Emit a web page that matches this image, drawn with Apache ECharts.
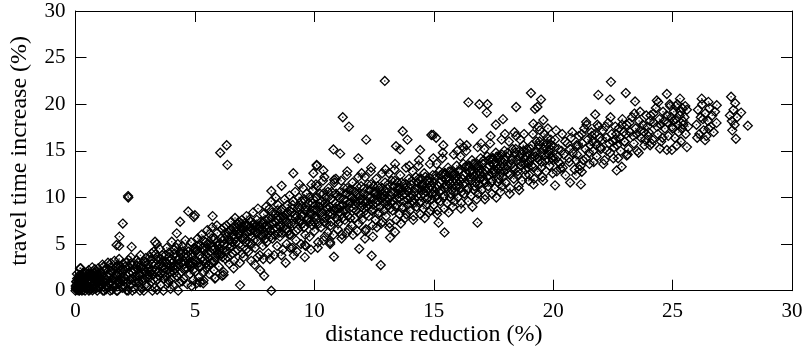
<!DOCTYPE html>
<html><head><meta charset="utf-8">
<script src="https://cdn.jsdelivr.net/npm/echarts@6/dist/echarts.min.js"></script>
<style>html,body{margin:0;padding:0;background:#fff}#c{width:809px;height:350px}</style>
</head><body><div id="c"></div>
<script>
// axis tick values
const xTicks = [0, 5, 10, 15, 20, 25, 30];
const yTicks = [0, 5, 10, 15, 20, 25, 30];
const xName = 'distance reduction (%)';
const yName = 'travel time increase (%)';

// points as flat [x, y, x, y, ...] lists (distance reduction %, travel time increase %)
const pts0to1 = [0.0,0.0, 0.02,0.3, 0.05,0.6, 0.03,1.0, 0.08,0.2, 0.1,0.8, 0.12,1.4, 0.06,1.8, 0.15,0.5, 0.18,0.1, 0.2,1.1, 0.22,2.4, 0.25,0.7, 0.28,1.6, 0.3,0.3, 0.33,0.9, 0.35,2.0, 0.38,1.3, 0.4,0.0, 0.42,0.6, 0.45,1.9, 0.47,1.0, 0.5,0.4, 0.52,1.5, 0.55,2.2, 0.57,0.8, 0.6,0.1, 0.62,1.2, 0.65,1.8, 0.68,0.5, 0.7,2.5, 0.72,1.0, 0.75,0.2, 0.78,1.6, 0.8,0.7, 0.83,2.1, 0.85,1.3, 0.88,0.3, 0.9,1.8, 0.93,0.9, 0.95,2.4, 0.98,0.5, 0.01,0.5, 0.04,0.15, 0.07,1.3, 0.11,0.05, 0.14,0.9, 0.17,1.7, 0.21,0.35, 0.24,1.2, 0.27,0.0, 0.31,1.9, 0.36,0.55, 0.41,1.45, 0.46,0.2, 0.51,0.95, 0.56,0.0, 0.61,1.55, 0.66,0.85, 0.71,0.05, 0.76,1.25, 0.81,2.3, 0.86,0.6, 0.91,0.0, 0.96,1.4];
const pts1to2 = [1.0,0.3, 1.03,1.1, 1.06,2.0, 1.1,0.6, 1.13,2.8, 1.16,1.5, 1.2,0.0, 1.23,0.9, 1.26,2.3, 1.3,1.2, 1.33,0.4, 1.36,3.0, 1.4,1.8, 1.43,0.7, 1.46,2.5, 1.5,1.0, 1.53,0.1, 1.56,2.0, 1.6,1.4, 1.63,3.2, 1.66,0.5, 1.7,2.6, 1.73,1.1, 1.76,0.0, 1.8,1.9, 1.83,3.4, 1.86,0.8, 1.9,2.3, 1.93,1.4, 1.96,0.3, 1.99,2.9, 1.08,1.6, 1.18,2.6, 1.28,0.15, 1.38,1.45, 1.48,2.95, 1.58,0.75, 1.68,1.75, 1.78,2.75, 1.88,1.2, 1.98,0.6, 1.15,0.0, 1.45,0.0, 1.72,0.0];
const pts2to3 = [2.0,1.0, 2.04,2.2, 2.08,0.4, 2.12,3.0, 2.16,1.6, 2.2,0.0, 2.24,2.6, 2.28,1.2, 2.32,3.6, 2.36,0.7, 2.4,1.9, 2.44,2.9, 2.48,0.2, 2.52,1.5, 2.56,3.3, 2.6,2.3, 2.64,0.9, 2.68,1.8, 2.72,3.8, 2.76,0.3, 2.8,2.6, 2.84,1.3, 2.88,3.1, 2.92,0.6, 2.96,2.0, 2.1,1.3, 2.22,3.3, 2.34,2.1, 2.46,1.0, 2.58,2.7, 2.7,0.0, 2.82,1.9, 2.94,3.5, 2.14,0.05, 2.38,0.0, 2.62,1.1, 2.86,0.0, 2.98,1.4];
const pts3to4 = [3.0,0.5, 3.04,2.4, 3.08,1.4, 3.12,3.6, 3.16,0.9, 3.2,2.9, 3.24,1.8, 3.28,4.2, 3.32,0.3, 3.36,2.2, 3.4,3.3, 3.44,1.2, 3.48,2.7, 3.52,4.5, 3.56,0.6, 3.6,1.9, 3.64,3.0, 3.68,0.0, 3.72,2.4, 3.76,3.8, 3.8,1.5, 3.84,2.8, 3.88,0.8, 3.92,4.1, 3.96,2.0, 3.1,2.0, 3.22,0.0, 3.34,3.9, 3.46,2.0, 3.58,3.4, 3.7,1.3, 3.82,4.6, 3.94,3.2, 3.18,4.0, 3.42,0.1, 3.66,2.6, 3.9,1.1, 3.98,0.2];
const pts4to5 = [4.0,1.2, 4.04,3.0, 4.08,0.6, 4.12,4.4, 4.16,2.3, 4.2,3.6, 4.24,1.6, 4.28,5.0, 4.32,2.8, 4.36,0.9, 4.4,3.9, 4.44,2.0, 4.48,4.8, 4.52,1.3, 4.56,3.2, 4.6,5.4, 4.64,2.5, 4.68,0.7, 4.72,4.2, 4.76,3.0, 4.8,1.8, 4.84,5.2, 4.88,3.6, 4.92,2.2, 4.96,4.6, 4.1,2.6, 4.22,4.6, 4.34,3.4, 4.46,1.0, 4.58,2.9, 4.7,3.7, 4.82,2.6, 4.94,1.2, 4.14,1.9, 4.38,4.2, 4.62,4.0, 4.86,0.5, 4.98,3.3, 4.3,0.0];
const pts5to6 = [5.0,2.0, 5.04,4.2, 5.08,3.1, 5.12,5.6, 5.16,1.4, 5.2,3.8, 5.24,2.6, 5.28,6.0, 5.32,4.6, 5.36,1.1, 5.4,3.4, 5.44,5.2, 5.48,2.4, 5.52,6.5, 5.56,4.0, 5.6,1.8, 5.64,5.0, 5.68,3.0, 5.72,6.8, 5.76,4.4, 5.8,2.2, 5.84,5.6, 5.88,3.6, 5.92,7.0, 5.96,4.8, 5.1,4.8, 5.22,0.9, 5.34,5.4, 5.46,3.8, 5.58,2.8, 5.7,4.7, 5.82,3.2, 5.94,6.2, 5.15,3.0, 5.38,2.0, 5.62,6.1, 5.86,1.4, 5.98,3.9, 5.5,4.6];
const pts6to7 = [6.0,2.6, 6.04,5.0, 6.08,3.8, 6.12,6.6, 6.16,4.4, 6.2,2.0, 6.24,5.6, 6.28,3.4, 6.32,7.0, 6.36,4.8, 6.4,6.2, 6.44,2.9, 6.48,5.4, 6.52,7.4, 6.56,4.0, 6.6,6.0, 6.64,3.2, 6.68,7.8, 6.72,5.2, 6.76,6.8, 6.8,4.4, 6.84,7.4, 6.88,3.0, 6.92,6.4, 6.96,5.6, 6.1,4.0, 6.22,6.8, 6.34,5.8, 6.46,4.6, 6.58,5.2, 6.7,4.2, 6.82,6.0, 6.94,7.2, 6.14,1.6, 6.38,3.6, 6.62,2.4, 6.86,5.0, 6.98,4.0, 6.5,6.6];
const pts7to8 = [7.0,6.6, 7.04,3.6, 7.08,7.2, 7.12,5.2, 7.16,8.0, 7.2,6.2, 7.24,4.2, 7.28,7.6, 7.32,6.8, 7.36,3.2, 7.4,5.8, 7.44,8.4, 7.48,6.4, 7.52,4.6, 7.56,7.0, 7.6,5.4, 7.64,8.8, 7.68,6.6, 7.72,3.8, 7.76,7.4, 7.8,6.0, 7.84,4.8, 7.88,8.2, 7.92,6.8, 7.96,5.6, 7.1,6.0, 7.22,7.0, 7.34,6.4, 7.46,7.2, 7.58,6.2, 7.7,7.0, 7.82,6.6, 7.94,7.6, 7.14,4.4, 7.38,5.0, 7.62,3.6, 7.86,3.4, 7.98,9.0, 7.5,2.8];
const pts8to9 = [8.0,5.2, 8.04,7.6, 8.08,4.0, 8.12,8.8, 8.16,6.4, 8.2,9.6, 8.24,5.6, 8.28,7.2, 8.32,3.8, 8.36,8.2, 8.4,6.8, 8.44,4.8, 8.48,9.2, 8.52,7.0, 8.56,5.8, 8.6,8.6, 8.64,6.2, 8.68,4.4, 8.72,7.8, 8.76,9.8, 8.8,6.6, 8.84,5.0, 8.88,8.4, 8.92,7.2, 8.96,10.2, 8.1,6.8, 8.22,7.8, 8.34,6.0, 8.46,7.6, 8.58,6.8, 8.7,8.0, 8.82,7.4, 8.94,6.0, 8.14,3.4, 8.38,10.0, 8.62,3.8, 8.86,9.2, 8.98,4.6, 8.5,8.0];
const pts9to10 = [9.0,6.0, 9.04,8.4, 9.08,4.6, 9.12,9.6, 9.16,7.2, 9.2,10.6, 9.24,5.4, 9.28,8.0, 9.32,6.6, 9.36,10.0, 9.4,7.6, 9.44,5.0, 9.48,9.0, 9.52,11.0, 9.56,6.8, 9.6,8.6, 9.64,4.8, 9.68,10.4, 9.72,7.8, 9.76,9.4, 9.8,5.8, 9.84,8.2, 9.88,11.4, 9.92,7.0, 9.96,9.8, 9.1,8.8, 9.22,7.8, 9.34,9.0, 9.46,8.0, 9.58,9.8, 9.7,8.6, 9.82,7.4, 9.94,10.8, 9.14,3.8, 9.38,11.4, 9.62,6.0, 9.86,4.4, 9.98,8.6, 9.5,7.2];
const pts10to11 = [10.0,6.4, 10.04,9.2, 10.08,7.6, 10.12,11.2, 10.16,5.2, 10.2,8.4, 10.24,10.4, 10.28,6.8, 10.32,9.6, 10.36,11.8, 10.4,7.4, 10.44,5.8, 10.48,10.0, 10.52,8.8, 10.56,6.2, 10.6,11.0, 10.64,9.0, 10.68,7.0, 10.72,10.6, 10.76,8.2, 10.8,6.0, 10.84,11.6, 10.88,9.4, 10.92,7.8, 10.96,10.2, 10.1,8.6, 10.22,9.0, 10.34,8.0, 10.46,9.4, 10.58,8.2, 10.7,9.8, 10.82,8.6, 10.94,8.8, 10.14,4.6, 10.42,12.2, 10.66,5.2, 10.9,12.0, 10.98,6.6, 10.5,7.2];
const pts11to12 = [11.0,7.2, 11.04,10.0, 11.08,8.4, 11.12,11.8, 11.16,6.0, 11.2,9.2, 11.24,11.0, 11.28,7.6, 11.32,10.4, 11.36,12.4, 11.4,8.0, 11.44,6.6, 11.48,10.8, 11.52,9.4, 11.56,7.0, 11.6,11.6, 11.64,9.8, 11.68,7.8, 11.72,10.6, 11.76,8.6, 11.8,6.4, 11.84,12.2, 11.88,9.6, 11.92,8.2, 11.96,11.2, 11.1,9.0, 11.22,8.6, 11.34,9.6, 11.46,8.8, 11.58,10.0, 11.7,9.2, 11.82,10.2, 11.94,9.8, 11.14,5.6, 11.38,12.8, 11.62,6.0, 11.86,7.2, 11.98,12.6, 11.5,10.2];
const pts12to13 = [12.0,7.6, 12.04,10.4, 12.08,8.8, 12.12,12.2, 12.16,6.6, 12.2,9.6, 12.24,11.4, 12.28,8.0, 12.32,10.8, 12.36,12.8, 12.4,8.6, 12.44,7.0, 12.48,11.2, 12.52,9.8, 12.56,7.6, 12.6,12.0, 12.64,10.2, 12.68,8.2, 12.72,11.0, 12.76,9.0, 12.8,7.2, 12.84,12.6, 12.88,10.0, 12.92,8.6, 12.96,11.6, 12.1,9.4, 12.22,9.0, 12.34,10.0, 12.46,9.2, 12.58,10.6, 12.7,9.6, 12.82,10.4, 12.94,10.2, 12.14,6.4, 12.38,13.2, 12.62,6.8, 12.86,7.4, 12.98,13.0, 12.5,10.4];
const pts13to14 = [13.0,8.0, 13.04,11.0, 13.08,9.2, 13.12,12.6, 13.16,7.2, 13.2,10.2, 13.24,11.8, 13.28,8.6, 13.32,11.2, 13.36,13.0, 13.4,9.0, 13.44,7.6, 13.48,11.6, 13.52,10.4, 13.56,8.2, 13.6,12.4, 13.64,10.6, 13.68,8.8, 13.72,11.4, 13.76,9.6, 13.8,7.8, 13.84,13.2, 13.88,10.8, 13.92,9.2, 13.96,12.0, 13.1,9.8, 13.22,9.4, 13.34,10.6, 13.46,9.8, 13.58,11.0, 13.7,10.2, 13.82,11.0, 13.94,10.6, 13.14,6.8, 13.38,13.6, 13.62,7.2, 13.86,8.2, 13.98,13.4, 13.5,10.8];
const pts14to15 = [14.0,8.6, 14.04,11.4, 14.08,9.6, 14.12,12.8, 14.16,8.0, 14.2,10.6, 14.24,12.2, 14.28,9.0, 14.32,11.6, 14.36,13.4, 14.4,9.4, 14.44,8.2, 14.48,12.0, 14.52,10.8, 14.56,8.8, 14.6,12.6, 14.64,11.0, 14.68,9.2, 14.72,11.8, 14.76,10.0, 14.8,8.4, 14.84,13.6, 14.88,11.2, 14.92,9.8, 14.96,12.4, 14.1,10.2, 14.22,9.8, 14.34,11.0, 14.46,10.2, 14.58,11.4, 14.7,10.6, 14.82,11.6, 14.94,11.0, 14.14,7.6, 14.38,14.0, 14.62,7.8, 14.86,8.6, 14.98,14.2, 14.5,11.2];
const pts15to16 = [15.0,9.2, 15.04,12.0, 15.08,10.2, 15.12,13.6, 15.16,8.6, 15.2,11.2, 15.24,12.8, 15.28,9.6, 15.32,12.4, 15.36,14.2, 15.4,10.0, 15.44,8.8, 15.48,12.6, 15.52,11.4, 15.56,9.4, 15.6,13.2, 15.64,11.8, 15.68,10.0, 15.72,12.8, 15.76,10.8, 15.8,9.0, 15.84,14.6, 15.88,12.0, 15.92,10.6, 15.96,13.4, 15.1,11.0, 15.22,10.6, 15.34,11.8, 15.46,11.0, 15.58,12.2, 15.7,11.4, 15.82,12.4, 15.94,11.8, 15.14,8.2, 15.38,14.8, 15.62,8.4, 15.86,9.6, 15.98,15.0, 15.5,12.0];
const pts16to17 = [16.0,10.0, 16.04,12.8, 16.08,11.0, 16.12,14.4, 16.16,9.4, 16.2,12.0, 16.24,13.6, 16.28,10.4, 16.32,13.2, 16.36,15.0, 16.4,10.8, 16.44,9.6, 16.48,13.4, 16.52,12.2, 16.56,10.2, 16.6,14.0, 16.64,12.6, 16.68,10.8, 16.72,13.6, 16.76,11.6, 16.8,9.8, 16.84,15.4, 16.88,12.8, 16.92,11.4, 16.96,14.2, 16.1,11.8, 16.22,11.4, 16.34,12.6, 16.46,11.8, 16.58,13.0, 16.7,12.2, 16.82,13.2, 16.94,12.6, 16.14,8.8, 16.38,15.6, 16.62,9.0, 16.86,10.4, 16.98,15.8, 16.5,12.8];
const pts17to18 = [17.0,10.8, 17.04,13.6, 17.08,11.8, 17.12,15.2, 17.16,10.2, 17.2,12.8, 17.24,14.4, 17.28,11.2, 17.32,14.0, 17.36,15.8, 17.4,11.6, 17.44,10.4, 17.48,14.2, 17.52,13.0, 17.56,11.0, 17.6,14.8, 17.64,13.4, 17.68,11.6, 17.72,14.4, 17.76,12.4, 17.8,10.6, 17.84,16.2, 17.88,13.6, 17.92,12.2, 17.96,15.0, 17.1,12.6, 17.22,12.2, 17.34,13.4, 17.46,12.6, 17.58,13.8, 17.7,13.0, 17.82,14.0, 17.94,13.4, 17.14,9.8, 17.38,16.6, 17.62,10.0, 17.86,11.2, 17.98,16.8, 17.5,13.6, 17.6,17.8, 17.9,18.4];
const pts18to19 = [18.0,11.6, 18.05,14.4, 18.1,12.6, 18.15,16.0, 18.2,11.0, 18.25,13.6, 18.3,15.2, 18.35,12.0, 18.4,14.8, 18.45,16.6, 18.5,12.4, 18.55,11.2, 18.6,15.0, 18.65,13.8, 18.7,11.8, 18.75,15.6, 18.8,14.2, 18.85,12.4, 18.9,15.2, 18.95,13.2, 18.08,13.4, 18.28,14.2, 18.48,14.0, 18.68,14.6, 18.88,14.4, 18.18,10.4, 18.38,17.0, 18.58,10.8, 18.78,16.8, 18.98,11.8, 18.42,13.0, 18.62,16.2, 18.82,13.0];
const pts19to20 = [19.0,12.4, 19.05,15.2, 19.1,13.4, 19.15,16.8, 19.2,12.0, 19.25,14.4, 19.3,16.0, 19.35,12.8, 19.4,15.6, 19.45,17.2, 19.5,13.2, 19.55,12.2, 19.6,15.8, 19.65,14.6, 19.7,12.8, 19.75,16.4, 19.8,15.0, 19.85,13.4, 19.9,16.2, 19.95,14.2, 19.08,14.2, 19.28,15.0, 19.48,14.8, 19.68,15.4, 19.88,15.2, 19.18,11.4, 19.38,17.6, 19.58,11.8, 19.78,17.4, 19.98,12.6, 19.42,14.0, 19.62,16.8, 19.82,14.0];
const pts20to22 = [20.0,14.0, 20.08,16.2, 20.15,12.8, 20.22,15.2, 20.3,13.6, 20.38,16.8, 20.45,14.6, 20.52,12.4, 20.6,15.8, 20.68,13.8, 20.75,16.4, 20.82,14.8, 20.9,13.0, 20.98,15.6, 20.05,15.4, 20.2,14.4, 20.35,15.0, 20.5,16.0, 20.65,14.2, 20.8,17.0, 20.95,14.0, 20.4,13.2, 20.7,15.2, 20.12,17.2,
  21.0,14.6, 21.08,16.6, 21.15,13.4, 21.22,15.8, 21.3,17.4, 21.38,14.2, 21.45,16.2, 21.52,13.6, 21.6,17.0, 21.68,15.0, 21.75,16.8, 21.82,14.4, 21.9,17.6, 21.98,15.4, 21.05,15.6, 21.2,16.8, 21.35,15.2, 21.5,14.8, 21.65,16.0, 21.8,15.6, 21.95,16.4, 21.4,17.8, 21.7,13.8, 21.1,13.0, 21.55,15.6, 21.85,17.8, 21.25,14.0, 21.62,16.6];
const pts22to24 = [22.0,15.2, 22.08,17.2, 22.15,14.0, 22.22,16.4, 22.3,18.0, 22.38,14.8, 22.45,16.8, 22.52,14.2, 22.6,17.6, 22.68,15.6, 22.75,17.4, 22.82,15.0, 22.9,18.4, 22.98,16.0, 22.05,16.2, 22.2,17.6, 22.35,15.8, 22.5,16.0, 22.65,16.8, 22.8,16.4, 22.95,17.0, 22.4,18.6, 22.72,14.2, 22.1,13.6, 22.55,15.4, 22.88,17.8, 22.25,15.0, 22.62,16.2,
  23.0,16.0, 23.08,17.8, 23.15,15.2, 23.22,17.0, 23.3,18.6, 23.38,15.8, 23.45,17.4, 23.52,15.0, 23.6,18.2, 23.68,16.4, 23.75,17.8, 23.82,15.6, 23.9,18.8, 23.98,16.6, 23.05,16.8, 23.2,18.0, 23.35,16.6, 23.5,16.8, 23.65,17.2, 23.8,17.0, 23.95,17.6, 23.4,19.0, 23.12,14.6, 23.58,14.8, 23.85,16.2];
const pts24to28 = [24.0,17.0, 24.08,18.8, 24.15,16.2, 24.22,18.0, 24.3,19.6, 24.38,16.8, 24.45,18.4, 24.52,16.0, 24.6,19.2, 24.68,17.4, 24.75,18.8, 24.82,16.6, 24.9,19.8, 24.98,17.6, 24.05,18.2, 24.2,19.0, 24.35,17.6, 24.5,17.8, 24.65,18.2, 24.8,18.0, 24.95,18.6, 24.4,20.2, 24.12,15.8, 24.58,16.4, 24.88,20.0,
  25.0,17.4, 25.05,19.2, 25.1,16.4, 25.15,18.4, 25.2,20.0, 25.25,17.0, 25.3,18.8, 25.35,16.0, 25.4,19.6, 25.45,17.8, 25.5,18.6, 25.55,16.8, 25.6,19.4, 25.65,17.6, 25.03,18.2, 25.13,19.8, 25.23,17.8, 25.33,19.2, 25.43,18.2, 25.53,19.8, 25.18,15.6, 25.38,17.4,
  26.0,17.8, 26.06,19.4, 26.12,16.8, 26.18,18.6, 26.24,20.0, 26.3,17.2, 26.36,19.0, 26.42,16.6, 26.48,18.2, 26.54,19.6, 26.6,17.6, 26.66,18.8, 26.72,17.0, 26.78,19.2, 26.84,18.0, 26.03,16.4, 26.27,18.4, 26.51,17.4,
  27.45,20.8, 27.62,20.1, 27.87,19.1, 27.48,18.2, 28.15,17.7, 27.65,16.3, 27.55,19.4, 27.4,18.8, 27.7,18.6, 27.6,17.8, 27.5,17.2];
const outliers = [2.21,10.0, 2.2,10.15, 1.98,7.2, 1.84,5.8, 1.72,4.9, 1.83,4.8, 2.35,4.7, 3.33,5.25, 3.4,5.0, 4.38,7.4, 4.72,8.5, 5.0,8.1, 4.24,6.15, 4.03,5.25, 0.19,2.4,
  6.06,14.8, 6.33,15.6, 6.36,13.5, 9.12,12.6, 8.63,11.25, 8.2,10.7, 9.96,12.6, 10.1,13.4, 5.74,8.0, 4.96,7.9, 6.89,0.6, 8.2,0.0, 7.73,2.2, 7.9,1.6, 8.8,3.0, 9.26,4.2, 9.6,3.6, 9.61,4.9, 6.2,1.7, 5.35,0.8, 5.84,1.3, 5.07,0.8,
  12.95,22.5, 11.19,18.6, 11.45,17.6, 12.17,16.2, 10.8,15.15, 11.08,14.7, 11.84,14.2, 13.7,17.1, 13.9,16.2, 13.42,15.5, 13.59,15.15, 14.43,15.1, 14.9,16.7, 15.1,16.4, 10.1,13.5, 10.38,12.9, 10.07,11.4, 10.83,11.9,
  10.82,3.65, 11.88,4.5, 12.4,3.75, 12.78,2.75, 12.12,5.6, 12.45,5.8, 13.17,5.7, 13.38,6.3, 11.36,6.2, 10.66,5.0, 10.38,5.4,
  19.07,21.2, 19.49,20.5, 19.24,19.5, 19.34,19.7, 18.45,19.7, 16.45,20.2, 16.91,20.0, 17.25,20.0, 17.22,19.1, 16.63,17.4, 19.59,18.3, 19.17,17.9, 16.83,7.3, 15.45,6.25, 15.2,7.3, 16.1,15.8, 16.24,15.4, 14.98,16.7, 15.4,15.6,
  22.42,22.4, 21.89,21.0, 22.38,20.5, 23.04,21.2, 23.43,20.3, 24.34,20.4, 24.76,21.1, 23.64,19.2, 21.76,18.9, 21.38,18.1, 20.08,11.3, 20.71,11.6, 21.16,11.4, 20.96,12.4, 21.2,12.75, 20.22,13.8, 20.3,13.1, 24.06,15.6, 24.47,15.25, 24.76,15.1, 22.66,12.9, 22.87,13.3, 23.08,14.5,
  25.31,20.6, 26.22,20.6, 26.5,20.25, 26.85,19.9, 25.6,15.4, 24.97,15.1, 26.36,16.15];
// dense core of the band
const core0to4 = [0.02,0.2, 0.05,0.9, 0.09,0.4, 0.13,1.1, 0.16,0.0, 0.19,0.7, 0.23,1.5, 0.26,0.3, 0.29,1.0, 0.32,0.1, 0.37,0.8, 0.43,1.2, 0.48,0.5, 0.53,1.8, 0.58,0.3, 0.63,0.9, 0.69,1.4, 0.74,0.6, 0.79,1.9, 0.84,0.2, 0.89,1.1, 0.94,1.6, 0.99,0.9,
  1.02,0.7, 1.09,1.9, 1.14,1.0, 1.21,2.2, 1.27,0.5, 1.34,1.6, 1.41,0.9, 1.47,2.1, 1.54,1.3, 1.61,0.4, 1.67,2.4, 1.74,1.6, 1.81,0.9, 1.87,2.6, 1.94,1.8,
  2.02,1.5, 2.09,2.6, 2.15,0.8, 2.23,1.9, 2.3,2.9, 2.37,1.3, 2.45,2.3, 2.53,0.9, 2.61,3.0, 2.67,1.6, 2.74,2.4, 2.81,1.0, 2.87,2.2, 2.93,3.0, 2.99,1.8,
  3.03,2.9, 3.09,1.7, 3.15,3.3, 3.21,2.2, 3.27,1.2, 3.35,2.8, 3.43,3.6, 3.5,1.6, 3.57,2.9, 3.63,3.8, 3.71,1.9, 3.78,3.1, 3.85,2.2, 3.91,3.6, 3.97,2.6];
const core4to8 = [4.03,3.4, 4.09,2.1, 4.15,4.0, 4.21,2.7, 4.27,3.3, 4.35,1.8, 4.42,3.0, 4.5,4.2, 4.57,2.4, 4.63,3.5, 4.71,4.6, 4.78,2.7, 4.85,3.9, 4.91,3.0, 4.97,4.4,
  5.03,3.2, 5.09,4.4, 5.17,2.6, 5.23,4.9, 5.3,3.6, 5.37,4.3, 5.45,2.9, 5.51,5.0, 5.57,3.5, 5.63,4.2, 5.71,5.6, 5.77,3.1, 5.83,4.6, 5.9,5.2, 5.97,4.1,
  6.03,4.4, 6.09,5.6, 6.15,3.6, 6.21,5.0, 6.27,6.2, 6.33,4.2, 6.41,5.4, 6.47,6.4, 6.53,4.8, 6.59,6.8, 6.65,5.6, 6.71,6.4, 6.78,7.2, 6.85,6.2, 6.91,6.8, 6.97,7.6,
  7.03,6.8, 7.09,5.6, 7.15,7.0, 7.21,6.4, 7.27,5.2, 7.33,7.4, 7.41,6.6, 7.47,5.4, 7.53,6.8, 7.59,7.6, 7.65,6.2, 7.73,6.8, 7.79,5.8, 7.85,7.2, 7.91,6.2, 7.97,7.0];
const core8to12 = [8.03,6.6, 8.09,7.8, 8.17,5.8, 8.23,8.4, 8.3,6.6, 8.37,7.4, 8.45,8.6, 8.51,6.2, 8.57,7.8, 8.65,8.8, 8.71,6.8, 8.79,7.6, 8.85,8.2, 8.91,6.4, 8.97,8.6,
  9.03,7.2, 9.09,9.2, 9.17,8.2, 9.23,6.4, 9.3,8.8, 9.37,7.4, 9.45,9.6, 9.51,8.0, 9.57,6.8, 9.65,9.0, 9.71,7.6, 9.79,10.0, 9.85,8.4, 9.91,9.4, 9.97,7.4,
  10.03,8.0, 10.09,10.0, 10.17,7.2, 10.23,9.4, 10.3,8.4, 10.37,10.4, 10.45,7.8, 10.51,9.0, 10.57,10.6, 10.65,8.4, 10.71,7.4, 10.79,9.6, 10.85,8.8, 10.91,10.4, 10.97,7.6,
  11.03,8.8, 11.09,10.6, 11.17,7.8, 11.23,9.8, 11.3,8.6, 11.37,11.0, 11.45,9.4, 11.51,7.8, 11.57,10.8, 11.65,8.8, 11.71,9.6, 11.79,11.2, 11.85,8.4, 11.91,10.2, 11.97,9.0];
const core12to16 = [12.03,9.2, 12.09,11.0, 12.17,8.2, 12.23,10.2, 12.3,9.2, 12.37,11.4, 12.45,8.8, 12.51,10.6, 12.57,9.4, 12.65,11.2, 12.71,8.4, 12.79,10.0, 12.85,11.0, 12.91,9.4, 12.97,10.6,
  13.03,9.6, 13.09,11.4, 13.17,8.8, 13.23,10.6, 13.3,9.6, 13.37,11.8, 13.45,9.2, 13.51,11.0, 13.57,10.0, 13.65,11.6, 13.71,9.0, 13.79,10.4, 13.85,11.4, 13.91,9.8, 13.97,11.0,
  14.03,10.0, 14.09,11.8, 14.17,9.4, 14.23,11.0, 14.3,10.2, 14.37,12.0, 14.45,9.6, 14.51,11.4, 14.57,10.4, 14.65,12.2, 14.71,9.8, 14.79,11.0, 14.85,12.0, 14.91,10.4, 14.97,11.6,
  15.03,10.6, 15.09,12.4, 15.17,9.8, 15.23,11.6, 15.3,10.8, 15.37,12.6, 15.45,10.2, 15.51,12.0, 15.57,11.0, 15.65,12.8, 15.71,10.4, 15.79,11.8, 15.85,12.6, 15.91,11.2, 15.97,12.2];
const core16to20 = [16.03,11.4, 16.09,13.0, 16.17,10.6, 16.23,12.4, 16.3,11.6, 16.37,13.4, 16.45,11.0, 16.51,12.8, 16.57,11.8, 16.65,13.6, 16.71,11.2, 16.79,12.6, 16.85,13.4, 16.91,12.0, 16.97,13.0,
  17.03,12.2, 17.09,14.0, 17.17,11.6, 17.23,13.2, 17.3,12.4, 17.37,14.2, 17.45,11.8, 17.51,13.6, 17.57,12.6, 17.65,14.4, 17.71,12.0, 17.79,13.4, 17.85,14.6, 17.91,12.8, 17.97,14.0,
  18.03,13.0, 18.11,14.8, 18.19,12.4, 18.27,14.0, 18.35,13.2, 18.43,15.2, 18.51,12.8, 18.59,14.4, 18.67,13.4, 18.75,15.0, 18.83,13.6, 18.91,14.8, 18.99,13.8,
  19.03,14.0, 19.11,15.6, 19.19,13.2, 19.27,14.8, 19.35,14.2, 19.43,16.0, 19.51,13.8, 19.59,15.2, 19.67,14.0, 19.75,15.8, 19.83,14.6, 19.91,15.6, 19.99,14.4];

const groups = [pts0to1, pts1to2, pts2to3, pts3to4, pts4to5, pts5to6, pts6to7, pts7to8, pts8to9, pts9to10,
  pts10to11, pts11to12, pts12to13, pts13to14, pts14to15, pts15to16, pts16to17, pts17to18, pts18to19, pts19to20,
  pts20to22, pts22to24, pts24to28, outliers, core0to4, core4to8, core8to12, core12to16, core16to20];
const points = [];
groups.forEach(g => { for (let i = 0; i + 1 < g.length; i += 2) points.push([g[i], g[i + 1]]); });

const FONT = 'Liberation Serif';
const axisCommon = {
  type: 'value', min: 0, max: 30, interval: 5,
  axisLine: { show: true, onZero: false, lineStyle: { color: '#000', width: 1 } },
  axisTick: { show: true, inside: true, length: 11, lineStyle: { color: '#000', width: 1 } },
  splitLine: { show: false }
};
const chart = echarts.init(document.getElementById('c'), null, { renderer: 'canvas' });
chart.setOption({
  animation: false,
  backgroundColor: '#fff',
  grid: { left: 75.5, right: 17, top: 11, bottom: 59.3, containLabel: false, outerBoundsMode: 'none' },
  xAxis: [
    Object.assign({}, axisCommon, {
      position: 'bottom', name: xName, nameLocation: 'middle', nameGap: 32, nameMoveOverlap: false,
      nameTextStyle: { fontFamily: FONT, fontSize: 24, color: '#000' },
      axisLabel: { show: true, margin: 10, fontFamily: FONT, fontSize: 21, color: '#000',
        formatter: v => xTicks.indexOf(v) >= 0 ? String(v) : '' }
    }),
    Object.assign({}, axisCommon, { position: 'top', axisLabel: { show: false } })
  ],
  yAxis: [
    Object.assign({}, axisCommon, {
      position: 'left', name: yName, nameLocation: 'middle', nameGap: 44, nameRotate: 90, nameMoveOverlap: false,
      nameTextStyle: { fontFamily: FONT, fontSize: 24, color: '#000' },
      axisLabel: { show: true, margin: 10, fontFamily: FONT, fontSize: 21, color: '#000',
        formatter: v => yTicks.indexOf(v) >= 0 ? String(v) : '' }
    }),
    Object.assign({}, axisCommon, { position: 'right', axisLabel: { show: false } })
  ],
  series: [
    {
      type: 'scatter', xAxisIndex: 0, yAxisIndex: 0, clip: false,
      symbol: 'diamond', symbolSize: 9,
      itemStyle: { color: 'rgba(0,0,0,0)', borderColor: '#000', borderWidth: 1.3, opacity: 1 },
      emphasis: { disabled: true },
      data: points
    },
    {
      type: 'scatter', xAxisIndex: 0, yAxisIndex: 0, clip: false,
      symbol: 'rect', symbolSize: 1.4,
      itemStyle: { color: '#000' },
      emphasis: { disabled: true },
      data: points
    }
  ]
});
</script>
</body></html>
